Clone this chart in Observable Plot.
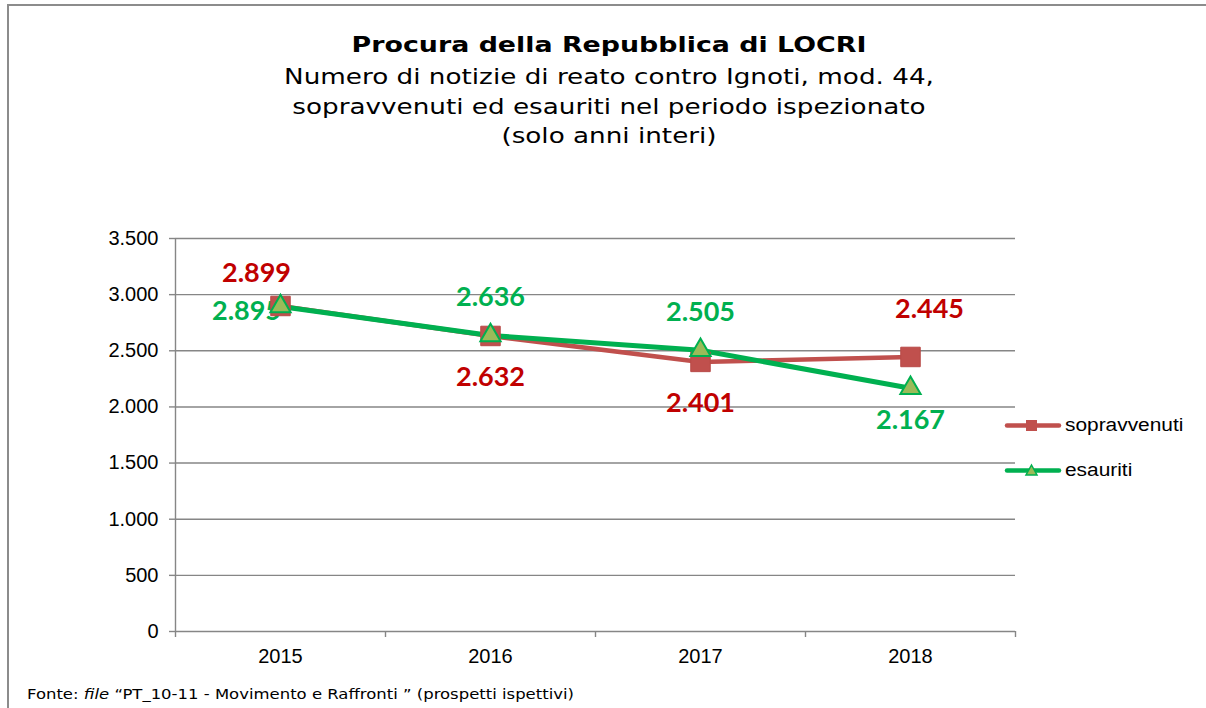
<!DOCTYPE html>
<html>
<head>
<meta charset="utf-8">
<script src="https://cdn.jsdelivr.net/npm/d3@7"></script>
<script src="https://cdn.jsdelivr.net/npm/@observablehq/plot@0.6"></script>
<style>
  html, body { margin: 0; padding: 0; background: #fff; }
  #wrap { position: relative; width: 1206px; height: 708px; overflow: hidden; background: #fff; }
  #frame { position: absolute; left: 7px; top: 4px; width: 1220px; height: 730px; border: 2px solid #8c8c8c; box-sizing: border-box; }
  .t { position: absolute; left: 0; width: 1218px; text-align: center; font-family: "DejaVu Sans", Verdana, sans-serif; color: #000; transform: scaleX(1.22); transform-origin: 609px 0; }
  #title { top: 30px; font-size: 22px; font-weight: bold; line-height: 29px; }
  #sub { top: 62px; font-size: 21.5px; line-height: 29.5px; }
  #chart { position: absolute; left: 0; top: 0; }
  #legend { position: absolute; left: 1004px; top: 410px; font-family: "Liberation Sans", Arial, sans-serif; font-size: 18px; }
  .li { display: flex; align-items: center; height: 30px; margin-bottom: 15px; }
  .li svg { margin-right: 3px; }
  .li span { display: inline-block; transform: scaleX(1.16); transform-origin: 0 50%; }
  #foot { position: absolute; left: 27px; top: 686px; font-family: "DejaVu Sans", Verdana, sans-serif; font-size: 13.5px; color: #000; transform: scaleX(1.22); transform-origin: 0 0; white-space: nowrap; }
</style>
</head>
<body>
<div id="wrap">
  <div id="frame"></div>
  <div id="chart"></div>
  <div class="t" id="title">Procura della Repubblica di LOCRI</div>
  <div class="t" id="sub">Numero di notizie di reato contro Ignoti, mod. 44,<br>sopravvenuti ed esauriti nel periodo ispezionato<br>(solo anni interi)</div>
  <div id="legend"></div>
  <div id="foot">Fonte: <i>file</i> “PT_10-11 - Movimento e Raffronti ” (prospetti ispettivi)</div>
</div>
<script>
// ---- data ----
const years = [2015, 2016, 2017, 2018];
const sopravvenuti = [2899, 2632, 2401, 2445];
const esauriti = [2895, 2636, 2505, 2167];
const seriesNames = ["sopravvenuti", "esauriti"];
const yTicks = [0, 500, 1000, 1500, 2000, 2500, 3000, 3500];

// ---- label layout (where each value label sits relative to its point) ----
const placeSopravvenuti = ["above-left", "below", "below", "above-right"];
const placeEsauriti = ["left", "above", "above", "below-near"];
const placeOffsets = {
  "above": [0, -38],
  "above-left": [-24, -33],
  "above-right": [19, -48],
  "below": [0, 41],
  "below-near": [0, 32],
  "left": [-34, 5]
};

// ---- styles ----
const lineColor = {sopravvenuti: "#c0504d", esauriti: "#00b050"};
const labelColor = {sopravvenuti: "#c00000", esauriti: "#00b050"};
const fmt = d => d3.format(",")(d).replace(/,/g, ".");

const seriesValues = {sopravvenuti, esauriti};
const seriesPlace = {sopravvenuti: placeSopravvenuti, esauriti: placeEsauriti};
const rows = [];
seriesNames.forEach(s => {
  years.forEach((y, i) => {
    const off = placeOffsets[seriesPlace[s][i]];
    rows.push({year: y, value: seriesValues[s][i], series: s, dx: off[0], dy: off[1]});
  });
});

const bounds = [years[0] - 0.5, ...years.map(y => y + 0.5)];
const labelFont = "Lato, 'Open Sans', sans-serif";

// one text mark per label so each can carry its own offset
const labelMarks = rows.map(d => Plot.text([d], {
  x: "year", y: "value", text: r => fmt(r.value), fill: labelColor[d.series],
  dx: d.dx, dy: d.dy, fontSize: 27, fontWeight: "bold", fontFamily: labelFont
}));

const chart = Plot.plot({
  width: 1206,
  height: 708,
  marginTop: 238,
  marginBottom: 77,
  marginLeft: 175,
  marginRight: 191,
  x: {type: "linear", domain: [bounds[0], bounds[bounds.length - 1]], label: null},
  y: {domain: [0, 3500], label: null},
  style: {background: "transparent", fontFamily: "'Liberation Sans', Arial, sans-serif", color: "#000"},
  marks: [
    Plot.ruleY(yTicks, {x1: bounds[0], x2: bounds[bounds.length - 1], stroke: "#868686", strokeWidth: 1.4}),
    Plot.axisY({ticks: yTicks, tickSize: 6, tickPadding: 11, tickFormat: fmt, fontSize: 20, stroke: "#868686", strokeWidth: 1.4, fill: "#000", label: null}),
    Plot.axisX({ticks: years, tickSize: 0, tickPadding: 17, tickFormat: d => String(d), fontSize: 20, fill: "#000", label: null}),
    Plot.axisX({ticks: bounds, tickSize: 6, tickFormat: () => "", stroke: "#868686", strokeWidth: 1.4, label: null}),
    Plot.ruleX([bounds[0]], {y1: 0, y2: 3500, stroke: "#868686", strokeWidth: 1.4}),
    Plot.line(rows.filter(d => d.series === "sopravvenuti"), {x: "year", y: "value", stroke: lineColor.sopravvenuti, strokeWidth: 4.5}),
    Plot.line(rows.filter(d => d.series === "esauriti"), {x: "year", y: "value", stroke: lineColor.esauriti, strokeWidth: 5}),
    ...labelMarks,
    Plot.dot(rows.filter(d => d.series === "sopravvenuti"), {x: "year", y: "value", symbol: "square", r: 11, fill: "#c0504d", stroke: "#b84a47", strokeWidth: 1}),
    Plot.dot(rows.filter(d => d.series === "esauriti"), {x: "year", y: "value", symbol: "triangle", r: 7.5, fill: "#9bbb59", stroke: "#00b050", strokeWidth: 2})
  ]
});
document.getElementById("chart").appendChild(chart);

// ---- legend ----
const legend = document.getElementById("legend");
seriesNames.forEach(s => {
  const item = document.createElement("div");
  item.className = "li";
  const marker = s === "sopravvenuti"
    ? `<rect x="22" y="10" width="11" height="11" fill="#c0504d"/>`
    : `<path d="M27.5,10 L33,20 L22,20 Z" fill="#9bbb59" stroke="#00b050" stroke-width="1.5"/>`;
  item.innerHTML = `<svg width="58" height="30"><line x1="3" y1="15.5" x2="55" y2="15.5" stroke="${lineColor[s]}" stroke-width="4.5" stroke-linecap="round"/>${marker}</svg><span>${s}</span>`;
  legend.appendChild(item);
});
</script>
</body>
</html>
